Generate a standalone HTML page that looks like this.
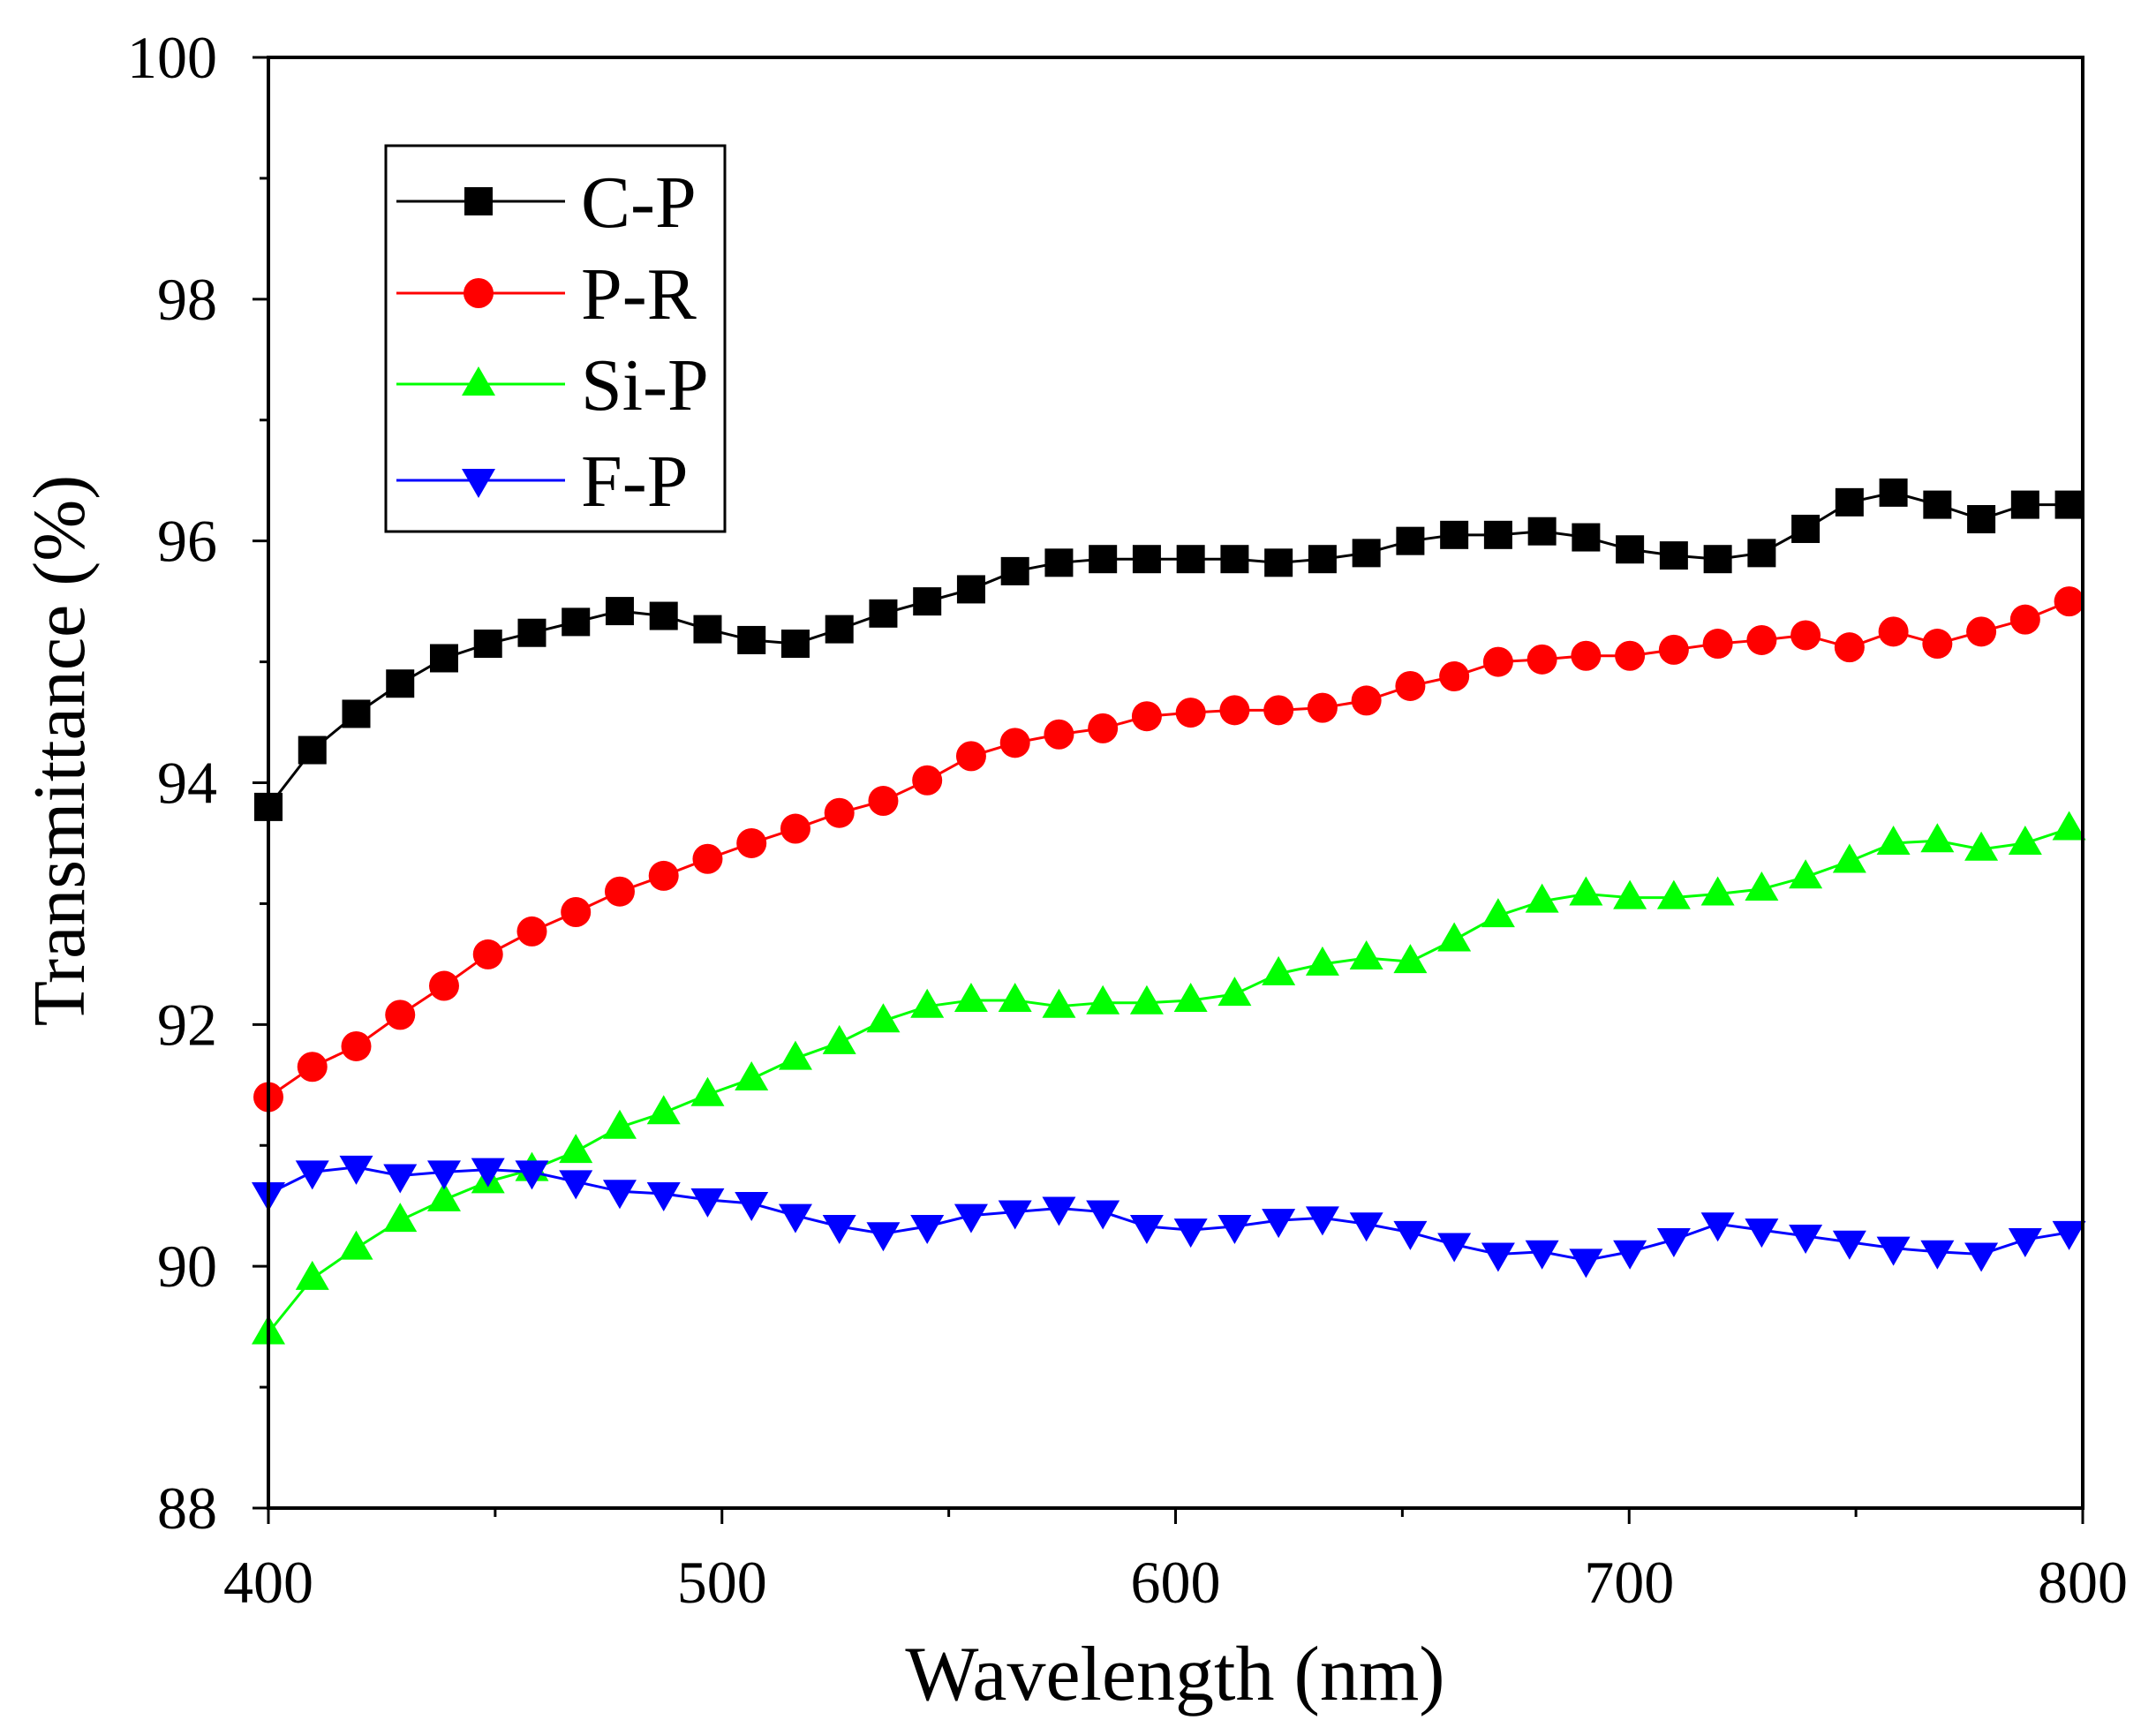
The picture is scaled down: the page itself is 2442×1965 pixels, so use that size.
<!DOCTYPE html>
<html><head><meta charset="utf-8"><style>
html,body{margin:0;padding:0;background:#fff;}
svg{display:block;}
text{font-family:"Liberation Serif",serif;fill:#000;}
</style></head><body>
<svg id="s" width="2442" height="1965" viewBox="0 0 2442 1965" xmlns="http://www.w3.org/2000/svg">
<rect x="0" y="0" width="2442" height="1965" fill="#fff"/>
<g id="plot"></g>
<rect x="304" y="65" width="2055" height="1643" fill="none" stroke="#000" stroke-width="4"/>
<g id="axes"></g>
<text x="1331" y="1925" font-size="88" text-anchor="middle">Wavelength (nm)</text>
<text transform="translate(95,850) rotate(-90)" font-size="84" text-anchor="middle">Transmittance (%)</text>
<rect x="437" y="165" width="384" height="437" fill="#fff" stroke="#000" stroke-width="3"/>
<g id="leg"></g>
</svg>
<script>
const L=304,R=2359,T=65,B=1708;
const X=v=>L+(v-400)*(R-L)/400, Y=v=>B-(v-88)*(B-T)/12;
const ns="http://www.w3.org/2000/svg";
function el(p,t,a,txt){const e=document.createElementNS(ns,t);for(const k in a)e.setAttribute(k,a[k]);if(txt!==undefined)e.textContent=txt;p.appendChild(e);return e;}
const ax=document.getElementById('axes');
for(let v=88;v<=100;v++){const y=Y(v);const maj=v%2==0;el(ax,'line',{x1:304-(maj?18:10),x2:304,y1:y,y2:y,stroke:'#000','stroke-width':3});
 if(maj)el(ax,'text',{x:246,y:y+23,'font-size':68,'text-anchor':'end'},String(v));}
for(let v=400;v<=800;v+=50){const x=X(v);const maj=v%100==0;el(ax,'line',{x1:x,x2:x,y1:1708,y2:1708+(maj?18:10),stroke:'#000','stroke-width':3});
 if(maj)el(ax,'text',{x:x,y:1815,'font-size':68,'text-anchor':'middle'},String(v));}
const data={
cp:[93.8,94.27,94.57,94.82,95.03,95.15,95.24,95.33,95.42,95.38,95.27,95.18,95.15,95.27,95.40,95.50,95.60,95.75,95.82,95.85,95.85,95.85,95.85,95.82,95.85,95.90,96.0,96.05,96.05,96.08,96.03,95.93,95.88,95.85,95.90,96.10,96.32,96.40,96.30,96.18,96.30,96.30],
pr:[91.4,91.65,91.82,92.08,92.32,92.58,92.77,92.93,93.1,93.23,93.37,93.5,93.62,93.75,93.85,94.02,94.22,94.33,94.4,94.45,94.55,94.58,94.6,94.6,94.62,94.68,94.8,94.88,95.0,95.02,95.05,95.05,95.1,95.15,95.18,95.22,95.12,95.25,95.15,95.25,95.35,95.5],
si:[89.45,89.9,90.15,90.38,90.55,90.7,90.8,90.95,91.15,91.27,91.42,91.55,91.72,91.85,92.03,92.15,92.2,92.2,92.15,92.18,92.18,92.2,92.25,92.42,92.5,92.55,92.52,92.7,92.9,93.02,93.08,93.05,93.05,93.08,93.12,93.22,93.35,93.5,93.52,93.45,93.5,93.62],
fp:[90.6,90.78,90.82,90.75,90.78,90.8,90.78,90.7,90.62,90.6,90.55,90.52,90.42,90.33,90.27,90.33,90.42,90.45,90.48,90.45,90.33,90.3,90.33,90.38,90.4,90.35,90.28,90.18,90.1,90.12,90.05,90.12,90.22,90.35,90.3,90.25,90.2,90.15,90.12,90.1,90.22,90.28]};
const col={cp:'#000',pr:'#ff0000',si:'#00ff00',fp:'#0000ff'};
function marker(p,k,x,y){const c=col[k];
 if(k=='cp')el(p,'rect',{x:x-16,y:y-16,width:32,height:32,fill:c});
 else if(k=='pr')el(p,'circle',{cx:x,cy:y,r:17,fill:c});
 else if(k=='si')el(p,'polygon',{points:`${x},${y-20} ${x-19},${y+13} ${x+19},${y+13}`,fill:c});
 else el(p,'polygon',{points:`${x},${y+20} ${x-19},${y-13} ${x+19},${y-13}`,fill:c});}
const pl=document.getElementById('plot');
for(const k of ['cp','pr','si','fp']){const d=data[k];const pts=d.map((v,i)=>[X(400+i*397/(d.length-1)),Y(v)]);
 el(pl,'polyline',{points:pts.map(p=>p.join(',')).join(' '),fill:'none',stroke:col[k],'stroke-width':3});
 pts.forEach(p=>marker(pl,k,p[0],p[1]));}
const lg=document.getElementById('leg');
const names={cp:'C-P',pr:'P-R',si:'Si-P',fp:'F-P'};const ry={cp:228,pr:332,si:435,fp:544};
for(const k in names){const y=ry[k];el(lg,'line',{x1:449,x2:640,y1:y,y2:y,stroke:col[k],'stroke-width':3});marker(lg,k,542,y);
 el(lg,'text',{x:658,y:y+29,'font-size':84},names[k]);}
</script>
</body></html>
